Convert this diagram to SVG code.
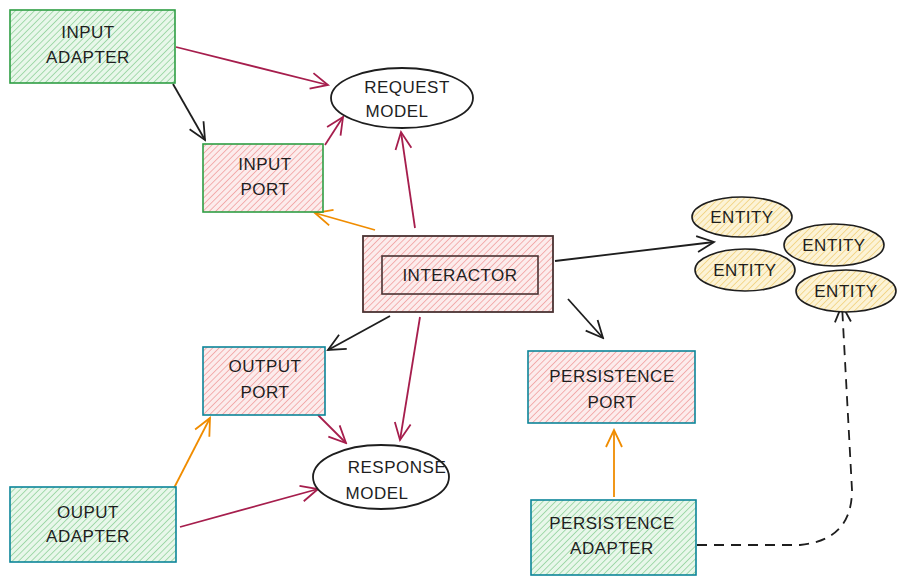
<svg xmlns="http://www.w3.org/2000/svg" width="906" height="585" viewBox="0 0 906 585">
<style>
text{font-family:"Liberation Sans","DejaVu Sans",sans-serif;font-size:17px;fill:#1e1e1e;text-anchor:middle;letter-spacing:0.5px}
.box{stroke-width:1.6}
.g{stroke:#2f9e44}
.t{stroke:#0c8599}
.c{fill:none;stroke-width:1.8}
.k{stroke:#1e1e1e}
.r{stroke:#a61e4d}
.o{stroke:#f08c00}
</style>
<defs>
<pattern id="hg" width="4.5" height="4.5" patternUnits="userSpaceOnUse" patternTransform="rotate(45)"><rect width="5" height="5" fill="#e8f7ea"/><line x1="0" y1="0" x2="0" y2="5" stroke="#7fcb8c" stroke-width="1.3"/></pattern>
<pattern id="hr" width="4.5" height="4.5" patternUnits="userSpaceOnUse" patternTransform="rotate(45)"><rect width="5" height="5" fill="#fcecec"/><line x1="0" y1="0" x2="0" y2="5" stroke="#ee8f8f" stroke-width="1.3"/></pattern>
<pattern id="hy" width="4.5" height="4.5" patternUnits="userSpaceOnUse" patternTransform="rotate(45)"><rect width="5" height="5" fill="#fcf3d6"/><line x1="0" y1="0" x2="0" y2="5" stroke="#efca68" stroke-width="1.3"/></pattern>
<marker id="ak" viewBox="0 0 20 20" refX="18" refY="10" markerWidth="20" markerHeight="20" markerUnits="userSpaceOnUse" orient="auto"><path d="M1,2 L18,10 L1,18" fill="none" stroke="#1e1e1e" stroke-width="1.8"/></marker>
<marker id="ar" viewBox="0 0 20 20" refX="18" refY="10" markerWidth="20" markerHeight="20" markerUnits="userSpaceOnUse" orient="auto"><path d="M1,2 L18,10 L1,18" fill="none" stroke="#a61e4d" stroke-width="1.8"/></marker>
<marker id="ao" viewBox="0 0 20 20" refX="18" refY="10" markerWidth="20" markerHeight="20" markerUnits="userSpaceOnUse" orient="auto"><path d="M1,2 L18,10 L1,18" fill="none" stroke="#f08c00" stroke-width="1.8"/></marker>
</defs>

<g id="connectors">
<path class="c r" d="M176,47 L328,85" marker-end="url(#ar)"/>
<path class="c k" d="M173,84 L205,140" marker-end="url(#ak)"/>
<path class="c r" d="M325,145 L343,117" marker-end="url(#ar)"/>
<path class="c r" d="M415,228 L401,132" marker-end="url(#ar)"/>
<path class="c o" d="M375,230 L315,213" marker-end="url(#ao)"/>
<path class="c k" d="M555,261 L714,242" marker-end="url(#ak)"/>
<path class="c k" d="M568,299 L603,338" marker-end="url(#ak)"/>
<path class="c k" d="M390,316 L328,350" marker-end="url(#ak)"/>
<path class="c r" d="M420,317 L400,440" marker-end="url(#ar)"/>
<path class="c r" d="M318,415 L346,443" marker-end="url(#ar)"/>
<path class="c o" d="M174,488 L210,418" marker-end="url(#ao)"/>
<path class="c r" d="M180,527 L318,489" marker-end="url(#ar)"/>
<path class="c o" d="M614,497 L614,430" marker-end="url(#ao)"/>
<path class="c k" d="M697,545 L800,545 Q852,540 852,490 L842,305" stroke-width="2" stroke-dasharray="10,7" marker-end="url(#ak)"/>
</g>

<g id="input-adapter">
<rect class="box g" x="10" y="10" width="165" height="73" fill="url(#hg)"/>
<text x="88" y="38">INPUT</text>
<text x="88" y="63">ADAPTER</text>
</g>
<g id="input-port">
<rect class="box g" x="203" y="144" width="120" height="68" fill="url(#hr)"/>
<text x="265" y="170">INPUT</text>
<text x="265" y="195">PORT</text>
</g>
<g id="request-model">
<ellipse cx="402" cy="98" rx="71" ry="30" fill="#fff" stroke="#1e1e1e" stroke-width="1.8"/>
<text x="407" y="93">REQUEST</text>
<text x="397" y="117">MODEL</text>
</g>
<g id="interactor">
<rect x="363" y="236" width="190" height="76" fill="url(#hr)" stroke="#4a3232" stroke-width="1.8"/>
<rect x="382" y="256" width="156" height="38" fill="none" stroke="#4a3232" stroke-width="1.6"/>
<text x="460" y="281">INTERACTOR</text>
</g>
<g id="entity-1">
<ellipse cx="742" cy="217" rx="50" ry="20" fill="url(#hy)" stroke="#1e1e1e" stroke-width="1.6"/>
<text x="742" y="223" font-size="15">ENTITY</text>
</g>
<g id="entity-2">
<ellipse cx="834" cy="245" rx="50" ry="21" fill="url(#hy)" stroke="#1e1e1e" stroke-width="1.6"/>
<text x="834" y="251" font-size="15">ENTITY</text>
</g>
<g id="entity-3">
<ellipse cx="745" cy="270" rx="50" ry="21" fill="url(#hy)" stroke="#1e1e1e" stroke-width="1.6"/>
<text x="745" y="276" font-size="15">ENTITY</text>
</g>
<g id="entity-4">
<ellipse cx="846" cy="291" rx="50" ry="21" fill="url(#hy)" stroke="#1e1e1e" stroke-width="1.6"/>
<text x="846" y="297" font-size="15">ENTITY</text>
</g>
<g id="output-port">
<rect class="box t" x="203" y="347" width="122" height="68" fill="url(#hr)"/>
<text x="265" y="372">OUTPUT</text>
<text x="265" y="398">PORT</text>
</g>
<g id="response-model">
<ellipse cx="381" cy="477" rx="68" ry="32" fill="#fff" stroke="#1e1e1e" stroke-width="1.8"/>
<text x="397" y="473">RESPONSE</text>
<text x="377" y="499">MODEL</text>
</g>
<g id="output-adapter">
<rect class="box t" x="10" y="487" width="166" height="75" fill="url(#hg)"/>
<text x="88" y="518">OUPUT</text>
<text x="88" y="542">ADAPTER</text>
</g>
<g id="persistence-port">
<rect class="box t" x="528" y="351" width="167" height="72" fill="url(#hr)"/>
<text x="612" y="382">PERSISTENCE</text>
<text x="612" y="408">PORT</text>
</g>
<g id="persistence-adapter">
<rect class="box t" x="531" y="500" width="165" height="75" fill="url(#hg)"/>
<text x="612" y="529">PERSISTENCE</text>
<text x="612" y="554">ADAPTER</text>
</g>
</svg>
